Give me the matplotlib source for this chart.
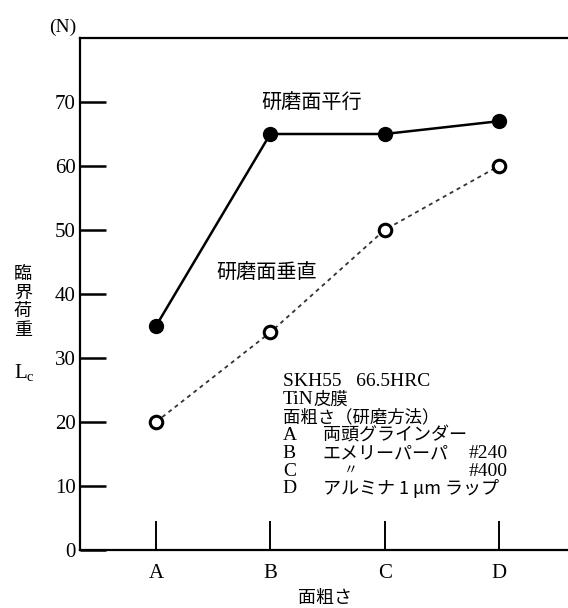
import matplotlib
matplotlib.use("Agg")
import matplotlib.pyplot as plt

plt.rcParams['font.family'] = ['Liberation Serif', 'Noto Sans CJK JP']

# data
categories = ["A", "B", "C", "D"]
parallel = [35, 65, 65, 67]
perpendicular = [20, 34, 50, 60]
y_ticks = [0, 10, 20, 30, 40, 50, 60, 70]

header = ["SKH55   66.5HRC", "TiN", "面粗さ（研磨方法）"]
methods = ["両頭グラインダー", "エメリーパーパ", "", "アルミナ 1 μm ラップ"]
grit = {"B": "#240", "C": "#400"}

jp = ['Noto Sans CJK JP', 'DejaVu Sans']

fig = plt.figure(figsize=(5.68, 6.08), dpi=100)
ax = fig.add_axes([80/568, 58/608, 488/568, 512/608])

x = list(range(len(categories)))
ax.plot(x, parallel, '-', color="black", lw=1.8,
        marker='o', markersize=10, markerfacecolor="black", zorder=3)
ax.plot(x, perpendicular, linestyle=(0, (2.2, 2.2)), color="#333333", lw=1.3,
        marker='o', markersize=9, markerfacecolor="white",
        markeredgecolor="black", markeredgewidth=2.2, zorder=3)

ax.set_xlim(-0.665, 3.605)
ax.set_ylim(0, 80)
ax.set_xticks(x)
ax.set_xticklabels(categories)
ax.set_yticks(y_ticks)

ax.spines['right'].set_visible(False)
for s in ['left', 'top', 'bottom']:
    ax.spines[s].set_linewidth(1.6)
ax.tick_params(axis='y', direction='in', length=19, width=1.8, pad=3, labelsize=15)
ax.tick_params(axis='x', direction='in', length=21, width=1.4, pad=10, labelsize=15)

# series labels
ax.text(1.36, 69.8, "研磨面平行", family=jp, fontsize=14.5, ha='center', va='center')
ax.text(0.97, 43.2, "研磨面垂直", family=jp, fontsize=14.5, ha='center', va='center')

# axis labels
fig.text(63/568, 1 - 27/608, "(N)", fontsize=14, ha='center', va='center')
fig.text(23/568, 1 - 302/608, "臨\n界\n荷\n重", family=jp, fontsize=13,
         ha='center', va='center', linespacing=1.05)
fig.text(24/568, 1 - 373/608, "L$_\\mathregular{c}$", fontsize=15,
         ha='center', va='center')
fig.text(325/568, 1 - 598/608, "面粗さ", family=jp, fontsize=13,
         ha='center', va='center')

# condition block
line_y = [26.25, 23.5, 20.75, 17.9, 15.1, 12.3, 9.6]
ax.text(1.11, line_y[0], header[0], fontsize=14, ha='left', va='center')
t = ax.text(1.11, line_y[1], header[1], fontsize=14, ha='left', va='center')
ax.annotate("皮膜", xycoords=t, xy=(1, 0.5), family=jp, fontsize=12.5,
            ha='left', va='center')
ax.text(1.11, line_y[2], header[2], family=jp, fontsize=12.5, ha='left', va='center')
for key, desc, yy in zip(categories, methods, line_y[3:]):
    ax.text(1.11, yy, key, fontsize=14, ha='left', va='center')
    if desc:
        ax.text(1.46, yy, desc, family=jp, fontsize=13, ha='left', va='center')
    if key in grit:
        ax.text(3.08, yy, grit[key], fontsize=14, ha='right', va='center')
ax.text(1.70, line_y[5] + 0.3, "〃", family=jp, fontsize=10, ha='center', va='center')

fig.savefig("out.png", dpi=100)
